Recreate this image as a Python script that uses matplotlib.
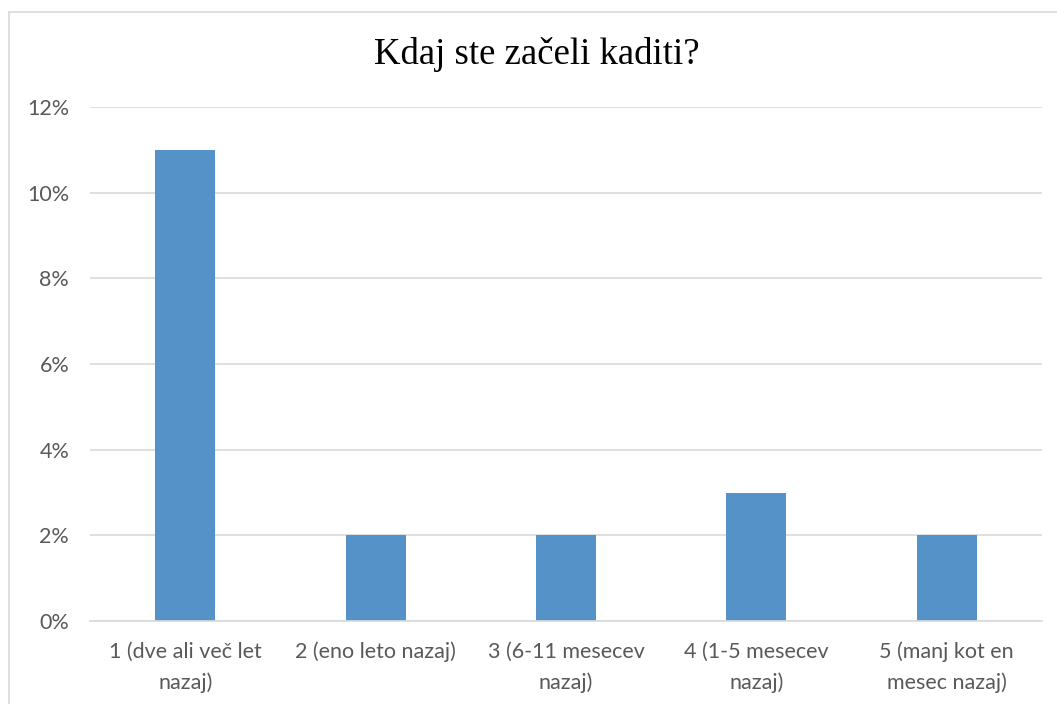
import matplotlib
matplotlib.use("Agg")
import matplotlib.pyplot as plt
from matplotlib.ticker import FuncFormatter
from matplotlib.lines import Line2D

title = "Kdaj ste začeli kaditi?"
categories = ["1 (dve ali več let\nnazaj)", "2 (eno leto nazaj)", "3 (6-11 mesecev\nnazaj)",
              "4 (1-5 mesecev\nnazaj)", "5 (manj kot en\nmesec nazaj)"]
values = [0.11, 0.02, 0.02, 0.03, 0.02]
yticks = [0, 0.02, 0.04, 0.06, 0.08, 0.10, 0.12]

W, H = 1057, 704
fig = plt.figure(figsize=(W / 100, H / 100), dpi=100)
ax = fig.add_axes([90 / W, 1 - 621 / H, (1042 - 90) / W, (621 - 107) / H])

x = list(range(len(categories)))
ax.bar(x, values, width=0.316, color="#5592C8", zorder=3)
ax.set_xlim(-0.5, len(categories) - 0.5)
ax.set_ylim(0, 0.12)
ax.set_yticks(yticks)
ax.yaxis.set_major_formatter(FuncFormatter(lambda v, p: f"{v*100:.0f}%"))
ax.grid(axis="y", color="#D9D9D9", linewidth=1.2, zorder=0)
for s in ["left", "right", "top"]:
    ax.spines[s].set_visible(False)
ax.spines["bottom"].set_color("#D9D9D9")
ax.spines["bottom"].set_linewidth(1.2)
ax.spines["bottom"].set_zorder(4)

ax.set_xticks(x)
ax.set_xticklabels(categories, family="Lato", fontsize=15.5, color="#595959",
                   linespacing=1.62)
for lab in ax.get_yticklabels():
    lab.set_family("Lato")
    lab.set_fontsize(15.5)
    lab.set_color("#595959")
ax.tick_params(axis="both", length=0)
ax.tick_params(axis="y", pad=15)
ax.tick_params(axis="x", pad=15)

fig.text(536.5 / W, 1 - 55 / H, title, ha="center", va="center",
         family="Liberation Serif", fontsize=26.5, color="black")

# chart area border (left and top visible)
fig.add_artist(Line2D([8.5 / W, 8.5 / W], [0, 1 - 11.5 / H], transform=fig.transFigure,
                      color="#D9D9D9", linewidth=1.2))
fig.add_artist(Line2D([8.5 / W, 1], [1 - 11.5 / H, 1 - 11.5 / H], transform=fig.transFigure,
                      color="#D9D9D9", linewidth=1.2))

fig.savefig("out.png", dpi=100)
